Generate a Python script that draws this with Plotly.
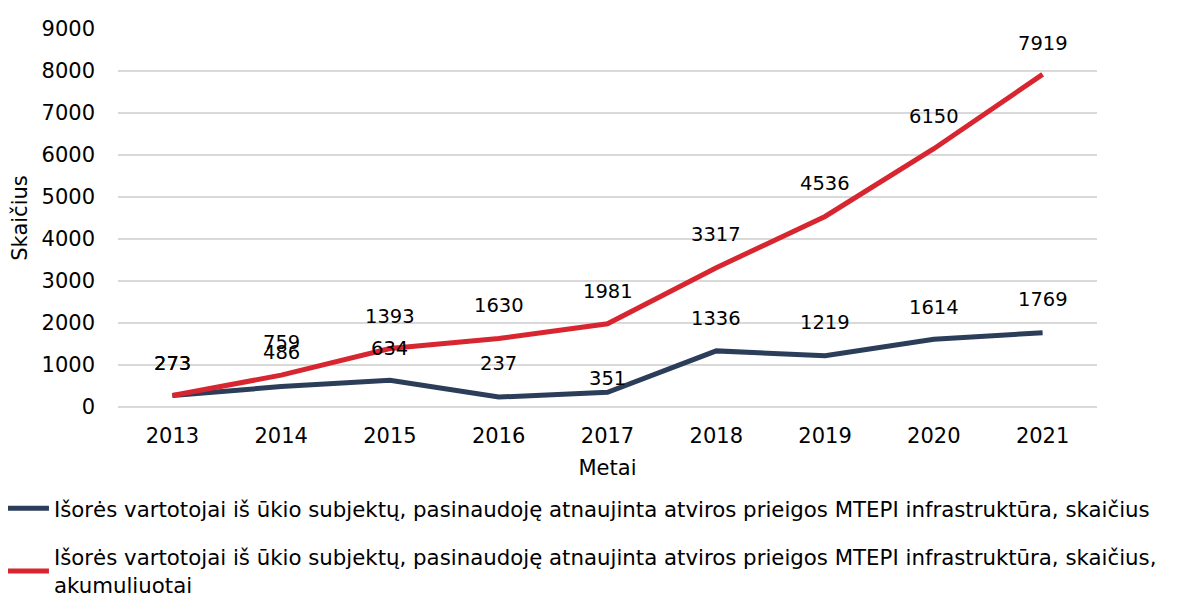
import plotly.graph_objects as go

years = ["2013", "2014", "2015", "2016", "2017", "2018", "2019", "2020", "2021"]
annual = [273, 486, 634, 237, 351, 1336, 1219, 1614, 1769]
cumulative = [273, 759, 1393, 1630, 1981, 3317, 4536, 6150, 7919]
annual_shift = [32, 34, 32, 34, 14, 32, 33, 32, 33]
cumul_shift = [32, 33, 32, 33, 32, 33, 33, 32, 31]

name_annual = "Išorės vartotojai iš ūkio subjektų, pasinaudoję atnaujinta atviros prieigos MTEPI infrastruktūra, skaičius"
name_cumul = "Išorės vartotojai iš ūkio subjektų, pasinaudoję atnaujinta atviros prieigos MTEPI infrastruktūra, skaičius,<br>akumuliuotai"

NAVY = "#2C3D59"
RED = "#D82630"
FONT = "DejaVu Sans"

fig = go.Figure()
fig.add_trace(go.Scatter(x=years, y=annual, mode="lines", name=name_annual,
                         line=dict(color=NAVY, width=5), legendgroup="a"))
fig.add_trace(go.Scatter(x=years, y=cumulative, mode="lines", name=name_cumul,
                         line=dict(color=RED, width=5), legendgroup="b"))

for i, (v, s) in enumerate(zip(annual, annual_shift)):
    fig.add_annotation(x=i, y=v, xref="x", yref="y", text=str(v), showarrow=False,
                       yshift=s, font=dict(family=FONT, size=19.5, color="#000000"))
for i, (v, s) in enumerate(zip(cumulative, cumul_shift)):
    fig.add_annotation(x=i, y=v, xref="x", yref="y", text=str(v), showarrow=False,
                       yshift=s, font=dict(family=FONT, size=19.5, color="#000000"))

fig.update_layout(
    width=1186, height=599,
    margin=dict(l=110, r=97, t=21, b=200, autoexpand=False),
    plot_bgcolor="white", paper_bgcolor="white",
    font=dict(family=FONT, size=21, color="#000000"),
    showlegend=True,
    legend=dict(x=-0.1216, xanchor="left", y=-0.2143, yanchor="top",
                orientation="v", font=dict(family=FONT, size=21.3, color="#000000"),
                tracegroupgap=18, itemwidth=45, bgcolor="rgba(0,0,0,0)"),
    xaxis=dict(type="category", range=[-0.5, 8.5], showgrid=False, showline=False,
               ticks="", tickfont=dict(size=21), ticklabelstandoff=14,
               title=dict(text="Metai", font=dict(size=21), standoff=13)),
    yaxis=dict(range=[0, 9000], dtick=1000, showgrid=True, gridcolor="#D9D9D9",
               gridwidth=2, zeroline=True, zerolinecolor="#D9D9D9", zerolinewidth=2,
               showline=False, ticks="", tickfont=dict(size=21), ticklabelstandoff=22,
               title=dict(text="Skaičius", font=dict(size=21), standoff=10)),
)

fig.write_html("out.html")
